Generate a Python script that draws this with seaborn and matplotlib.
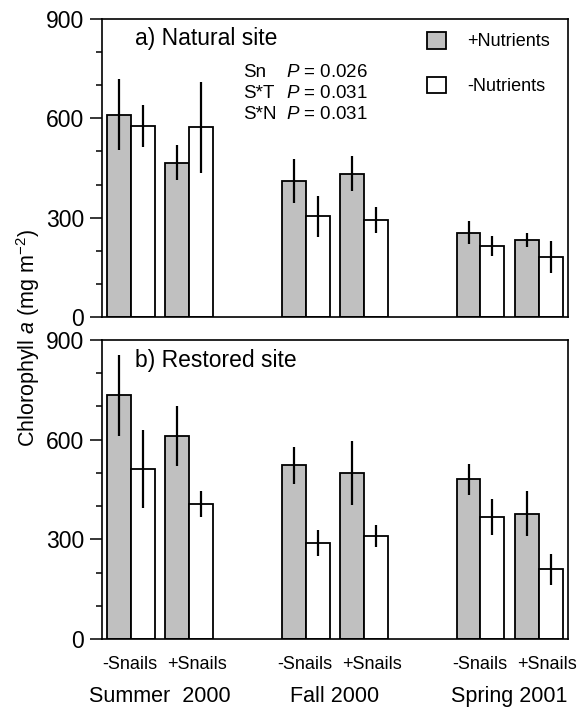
import numpy as np
import pandas as pd
import matplotlib
matplotlib.use('Agg')
import matplotlib.pyplot as plt
import seaborn as sns
from matplotlib.ticker import MultipleLocator
from matplotlib.transforms import ScaledTranslation, blended_transform_factory

# slot positions: two snail treatments per season, an empty slot between seasons
slots = [0, 1, 3, 4, 6, 7]
snail_labels = ['-Snails', '+Snails', '-Snails', '+Snails', '-Snails', '+Snails']
seasons = ['Summer  2000', 'Fall 2000', 'Spring 2001']
season_slots = [(0, 1), (3, 4), (6, 7)]
treatments = ['+Nutrients', '-Nutrients']

# chlorophyll a (mg m-2), mean and SE
natural_plus = [611, 466, 410, 432, 255, 232]
natural_plus_se = [107, 52, 67, 53, 36, 22]
natural_minus = [577, 573, 304, 294, 214, 181]
natural_minus_se = [63, 137, 61, 39, 30, 48]

restored_plus = [733, 611, 523, 500, 481, 377]
restored_plus_se = [121, 91, 56, 97, 47, 67]
restored_minus = [511, 406, 289, 310, 367, 210]
restored_minus_se = [117, 39, 39, 33, 53, 47]

stats_terms = ['Sn', 'S*T', 'S*N']
stats_p = ['0.026', '0.031', '0.031']

sns.set_style('ticks')
plt.rcParams['font.family'] = ['Liberation Sans', 'DejaVu Sans']
plt.rcParams['mathtext.fontset'] = 'custom'
plt.rcParams['mathtext.rm'] = 'Liberation Sans'
plt.rcParams['mathtext.it'] = 'Liberation Sans:italic'
plt.rcParams['axes.linewidth'] = 1.2
for key in ['text.color', 'axes.labelcolor', 'xtick.color', 'ytick.color', 'axes.edgecolor']:
    plt.rcParams[key] = 'black'

colors = {'+Nutrients': '#c0c0c0', '-Nutrients': 'white'}

fig = plt.figure(figsize=(5.86, 7.08), dpi=100)
ax_top = fig.add_axes([0.174, 0.5523, 0.795, 0.4209])
ax_bot = fig.add_axes([0.174, 0.0975, 0.795, 0.4223])


def draw_panel(ax, plus, plus_se, minus, minus_se, title, title_y):
    df = pd.DataFrame({
        'slot': slots * 2,
        'treatment': [treatments[0]] * len(slots) + [treatments[1]] * len(slots),
        'chl': plus + minus,
    })
    sns.barplot(data=df, x='slot', y='chl', hue='treatment', hue_order=treatments,
                palette=colors, native_scale=True, width=0.82, errorbar=None,
                edgecolor='black', linewidth=1.3, legend=False, ax=ax)
    # error bars on top of each bar, no caps
    for cont, errs in zip(ax.containers, [plus_se, minus_se]):
        xs = [b.get_x() + b.get_width() / 2 for b in cont]
        hs = [b.get_height() for b in cont]
        ax.errorbar(xs, hs, yerr=errs, fmt='none', ecolor='black',
                    elinewidth=1.6, capsize=0, zorder=5)
    ax.set_xlim(-0.5, 7.5)
    ax.set_ylim(0, 900)
    ax.yaxis.set_major_locator(MultipleLocator(300))
    ax.yaxis.set_minor_locator(MultipleLocator(100))
    ax.tick_params(axis='y', which='major', direction='out', length=9, width=1.1,
                   labelsize=16.5, pad=4)
    ax.tick_params(axis='y', which='minor', direction='out', length=4.5, width=1.1)
    ax.tick_params(axis='x', length=0)
    for s in ax.spines.values():
        s.set_visible(True)
        s.set_linewidth(1.2)
    ax.set_xlabel('')
    ax.set_ylabel('')
    ax.text(0.071, title_y, title, transform=ax.transAxes, fontsize=16.5,
            ha='left', va='center')


draw_panel(ax_top, natural_plus, natural_plus_se, natural_minus, natural_minus_se,
           'a) Natural site', 0.933)
draw_panel(ax_bot, restored_plus, restored_plus_se, restored_minus, restored_minus_se,
           'b) Restored site', 0.930)

ax_top.set_xticks(slots)
ax_top.set_xticklabels([])

# legend in the top panel
ax_top.legend(ax_top.containers, treatments, loc='upper left',
              bbox_to_anchor=(0.697, 0.957), frameon=False, fontsize=13,
              handlelength=1.05, handleheight=1.05, handletextpad=1.2,
              labelspacing=1.45, borderpad=0, borderaxespad=0)

# statistics text
for i, (term, p) in enumerate(zip(stats_terms, stats_p)):
    y = 0.819 - i * 0.069
    ax_top.text(0.3026, y, term, transform=ax_top.transAxes, fontsize=13.5,
                ha='left', va='center')
    ax_top.text(0.395, y, '$P$ = ' + p, transform=ax_top.transAxes, fontsize=13.5,
                ha='left', va='center')

# bottom x labels
ax_bot.set_xticks(slots)
ax_bot.set_xticklabels(snail_labels, fontsize=13)
ax_bot.tick_params(axis='x', length=0, pad=12)
for lab, txt in zip(ax_bot.get_xticklabels(), snail_labels):
    dx = 8 if txt.startswith('+') else -1
    lab.set_transform(lab.get_transform() + ScaledTranslation(dx / 100, 0, fig.dpi_scale_trans))

trans = blended_transform_factory(ax_bot.transData, ax_bot.transAxes)
for name, (a, b) in zip(seasons, season_slots):
    ax_bot.text((a + b) / 2, -0.194, name, transform=trans, fontsize=15.5,
                ha='center', va='center')

fig.text(0.048, 0.5226, 'Chlorophyll $a$ (mg m$^{-2}$)', rotation=90,
         fontsize=15.5, ha='center', va='center')

fig.savefig('out.png', dpi=100)
